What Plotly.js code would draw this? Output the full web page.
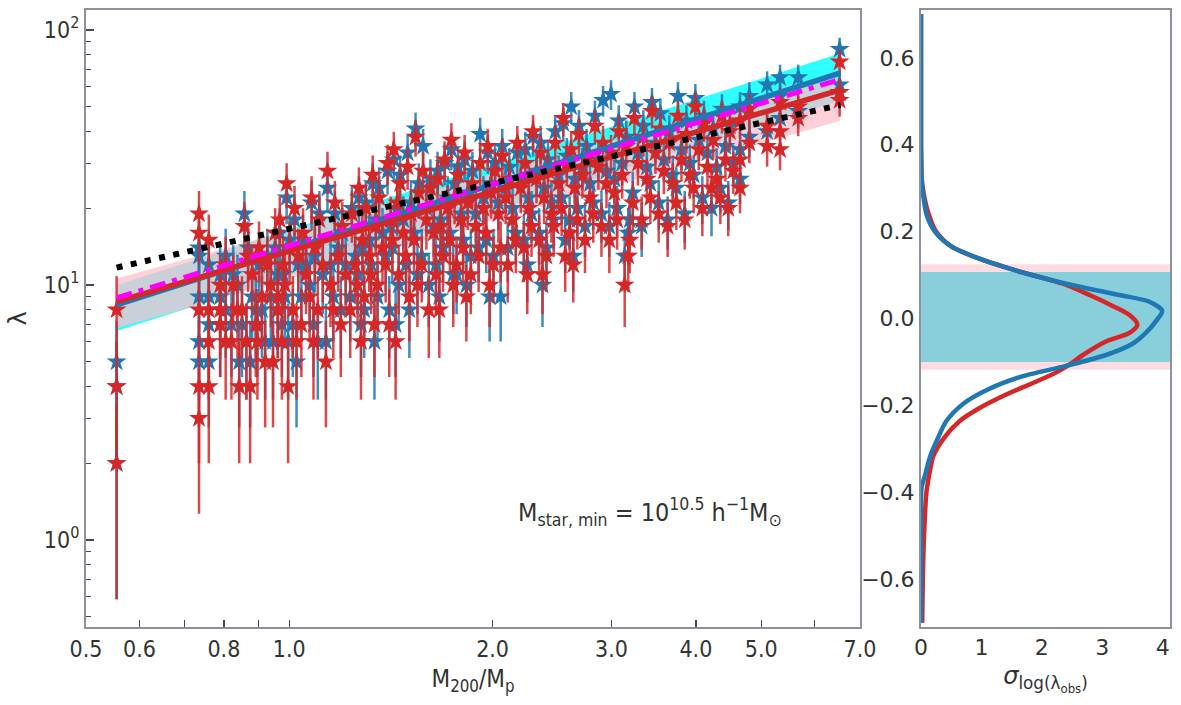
<!DOCTYPE html>
<html>
<head>
<meta charset="utf-8">
<script src="https://cdn.plot.ly/plotly-3.0.1.min.js"></script>
<style>
  html, body { margin: 0; padding: 0; background: #fff; }
  #chart { width: 1181px; height: 705px; }
</style>
</head>
<body>
<div id="chart"></div>
<script>
// cluster mass ratio M200/Mp (shared by both richness estimates)
var clusterX = [
  0.555, 0.555, 0.555,
  0.735, 0.735, 0.735, 0.735, 0.735, 0.76, 0.76, 0.76, 0.76, 0.79, 0.79, 0.79, 0.805, 0.805,
  0.826, 0.838, 0.821, 0.843, 0.858, 0.869, 0.851, 0.864, 0.881, 0.892, 0.875, 0.902, 0.911, 0.897,
  0.928, 0.939, 0.921, 0.953, 0.961, 0.946,
  0.968, 0.979, 0.962, 0.975, 0.991, 1.001, 0.985, 0.996, 1.018, 1.031, 1.012, 1.025, 1.048, 1.059, 1.042,
  1.079, 1.091, 1.072, 1.086, 1.108, 1.121, 1.102, 1.139, 1.151, 1.133, 1.168, 1.181, 1.162, 1.198, 1.212, 1.192,
  1.238, 1.252, 1.231, 1.268, 1.283, 1.262, 1.277, 1.298, 1.313, 1.291, 1.329, 1.343, 1.322, 1.337, 1.358, 1.374, 1.351,
  1.398, 1.413, 1.389, 1.406, 1.428, 1.445, 1.421, 1.437, 1.459, 1.475, 1.452, 1.497, 1.514, 1.489, 1.506,
  1.538, 1.555, 1.530, 1.548, 1.578, 1.596, 1.571, 1.618, 1.636, 1.609,
  1.658, 1.675, 1.649, 1.668, 1.698, 1.716, 1.689, 1.738, 1.757, 1.729, 1.749, 1.778, 1.797, 1.769,
  1.818, 1.838, 1.809, 1.829, 1.867, 1.889, 1.857, 1.917, 1.939, 1.907, 1.967, 1.990, 1.957, 1.980,
  2.017, 2.040, 2.006, 2.067, 2.091, 2.056, 2.117, 2.141, 2.106, 2.176, 2.202, 2.165,
  2.236, 2.262, 2.225, 2.251, 2.296, 2.323, 2.284, 2.356, 2.384, 2.344, 2.371, 2.416, 2.444, 2.403, 2.476, 2.505, 2.463,
  2.545, 2.576, 2.531, 2.562, 2.615, 2.647, 2.601, 2.633, 2.685, 2.717, 2.670, 2.755, 2.788, 2.741,
  2.835, 2.869, 2.819, 2.915, 2.949, 2.899, 2.995, 3.030, 2.978,
  3.075, 3.111, 3.058, 3.155, 3.192, 3.138, 3.176, 3.244, 3.283, 3.226, 3.344, 3.384, 3.325, 3.444, 3.485, 3.425,
  3.544, 3.586, 3.524, 3.654, 3.697, 3.633, 3.763, 3.808, 3.742, 3.873, 3.919, 3.851, 3.993, 4.040, 3.970,
  4.113, 4.161, 4.089, 4.243, 4.293, 4.219, 4.372, 4.424, 4.348, 4.492, 4.545, 4.467,
  4.65, 4.65, 4.65, 4.80, 4.80, 5.10, 5.10, 5.33, 5.33, 5.33, 5.67, 5.67, 6.53, 6.53, 6.53
];
// richness, red sample
var lambdaRed = [
  8, 4, 2,
  19, 16, 8, 4, 3, 15, 8, 6, 4, 10, 8, 7, 12, 6,
  10, 8, 6, 4, 17, 13, 8, 6, 11, 7, 4, 14, 9, 6, 12, 10, 5, 16, 8, 5,
  18, 12, 9, 6, 25, 14, 10, 4, 20, 13, 8, 6, 16, 11, 7,
  22, 14, 9, 6, 18, 12, 8, 28, 10, 5, 21, 13, 8, 17, 11, 7,
  19, 12, 8, 24, 15, 10, 6, 20, 13, 9, 27, 17, 11, 7, 22, 14, 10,
  30, 18, 12, 7, 34, 21, 15, 6, 25, 16, 11, 29, 19, 13, 9,
  38, 23, 15, 10, 28, 18, 12, 24, 16, 8,
  26, 17, 11, 8, 31, 20, 13, 37, 22, 15, 10, 27, 18, 12,
  33, 21, 14, 9, 25, 17, 11, 30, 20, 13, 35, 23, 16, 10,
  28, 19, 12, 32, 22, 14, 26, 18, 12, 36, 24, 15,
  30, 20, 14, 11, 40, 26, 17, 33, 22, 15, 11, 28, 19, 13, 36, 25, 17,
  45, 30, 20, 13, 34, 24, 16, 12, 39, 27, 18, 31, 22, 15,
  42, 29, 19, 36, 25, 17, 33, 23, 15,
  40, 27, 18, 35, 15, 10, 13, 45, 30, 21, 38, 26, 18, 48, 33, 22,
  41, 28, 19, 36, 25, 17, 46, 31, 21, 39, 27, 18, 50, 34, 24,
  43, 29, 20, 37, 26, 24, 46, 31, 22, 40, 28, 20,
  44, 31, 24, 49, 36, 42, 35, 40, 34, 52, 50, 45, 75, 57, 53
];
// richness, blue sample
var lambdaBlue = [
  5, 4, 2,
  14, 13, 9, 6, 5, 12, 9, 7, 5, 11, 9, 7, 13, 8,
  11, 10, 7, 5, 19, 14, 7, 6, 9, 8, 5, 12, 8, 7, 13, 9, 6, 14, 11, 6,
  16, 11, 8, 7, 22, 15, 9, 6, 18, 12, 7, 5, 15, 12, 9,
  21, 13, 10, 7, 19, 11, 6, 24, 12, 6, 19, 14, 9, 16, 12, 8,
  20, 13, 9, 22, 14, 11, 7, 21, 15, 8, 25, 18, 12, 6, 24, 16, 9,
  28, 17, 13, 8, 31, 20, 14, 7, 27, 18, 10, 33, 21, 12, 8,
  41, 25, 16, 11, 35, 20, 13, 26, 17, 10,
  28, 18, 12, 9, 30, 22, 14, 34, 25, 16, 11, 29, 19, 11,
  31, 23, 15, 10, 28, 19, 13, 39, 22, 14, 33, 25, 15, 9,
  30, 21, 13, 35, 24, 9, 29, 20, 14, 33, 26, 16,
  34, 22, 15, 12, 38, 28, 19, 36, 24, 16, 10, 31, 21, 14, 40, 27, 18,
  43, 32, 22, 15, 50, 26, 18, 13, 42, 29, 20, 35, 25, 17,
  46, 31, 21, 53, 28, 19, 56, 26, 17,
  44, 30, 20, 38, 18, 13, 16, 50, 33, 23, 42, 29, 17, 52, 36, 25,
  47, 31, 21, 40, 27, 18, 55, 34, 24, 44, 30, 19, 54, 37, 27,
  46, 33, 22, 41, 29, 20, 49, 35, 24, 42, 30, 21,
  50, 34, 26, 55, 38, 61, 40, 65, 45, 55, 65, 48, 84, 61, 57
];

// fitted relations (end points)
var fitX = [0.555, 6.55];
var fitBlue = [8.35, 67.8];
var fitRed = [8.6, 58.2];
var fitMagenta = [8.9, 64];
var fitBlack = [11.7, 50.8];
var cyanLow = [6.6, 53], cyanHigh = [10.0, 81];
var pinkLow = [6.76, 44], pinkHigh = [10.6, 65];

// scatter distribution (right panel)
var kdeBlueY = [0.70, 0.40, 0.34, 0.30, 0.28, 0.24, 0.20, 0.166, 0.14, 0.11, 0.08, 0.054, 0.039, 0.018, -0.002, -0.033, -0.058, -0.084, -0.109, -0.135, -0.165, -0.196, -0.236, -0.272, -0.318, -0.359, -0.389, -0.42, -0.5, -0.6, -0.70];
var kdeBlueX = [0, 0, 0.005, 0.02, 0.04, 0.09, 0.23, 0.5, 0.92, 1.58, 2.4, 3.28, 3.77, 3.99, 3.91, 3.72, 3.5, 3.06, 2.4, 1.63, 1.08, 0.70, 0.42, 0.29, 0.15, 0.07, 0.01, 0, 0, 0, 0];
var kdeRedY = [0.70, 0.40, 0.35, 0.324, 0.283, 0.243, 0.20, 0.166, 0.14, 0.11, 0.08, 0.054, 0.029, 0.008, -0.014, -0.033, -0.053, -0.084, -0.104, -0.124, -0.145, -0.175, -0.206, -0.236, -0.277, -0.318, -0.349, -0.40, -0.50, -0.60, -0.70];
var kdeRedX = [0, 0, 0.005, 0.01, 0.05, 0.12, 0.25, 0.5, 0.92, 1.58, 2.35, 2.79, 3.17, 3.45, 3.58, 3.45, 3.06, 2.68, 2.48, 2.24, 1.91, 1.41, 0.97, 0.64, 0.37, 0.20, 0.15, 0.09, 0.05, 0.03, 0.02];
var pinkBand = [-0.118, 0.125];
var cyanBand = [-0.10, 0.107];

var BLUE = '#1f77b4', RED = '#d62728';
var narrow = '"DejaVu Sans Condensed", "Liberation Sans Narrow", "DejaVu Sans", sans-serif';
var wide = '"DejaVu Sans", sans-serif';
var spine = '#8b929b';
var ink = '#333333';

function band(lo, hi, color) {
  return {
    x: [fitX[0], fitX[1], fitX[1], fitX[0]],
    y: [lo[0], lo[1], hi[1], hi[0]],
    fill: 'toself', fillcolor: color, mode: 'none',
    xaxis: 'x', yaxis: 'y', hoverinfo: 'skip'
  };
}

function stars(y, color, barColor) {
  return {
    x: clusterX, y: y, mode: 'markers', type: 'scatter',
    marker: { symbol: 'star', size: 15, color: color, line: { width: 0 } },
    error_y: { type: 'sqrt', visible: true, color: barColor, thickness: 2.5, width: 0 },
    xaxis: 'x', yaxis: 'y'
  };
}

function fit(y, color, width, dash) {
  return {
    x: fitX, y: y, mode: 'lines',
    line: { color: color, width: width, dash: dash || 'solid' },
    xaxis: 'x', yaxis: 'y'
  };
}

var traces = [
  band(cyanLow, cyanHigh, 'rgba(0,255,255,0.82)'),
  band(pinkLow, pinkHigh, 'rgba(255,192,203,0.75)'),
  stars(lambdaBlue, BLUE, 'rgba(31,119,180,0.85)'),
  stars(lambdaRed, RED, 'rgba(214,39,40,0.85)'),
  fit(fitBlue, BLUE, 5.5),
  fit(fitRed, RED, 5.5),
  fit(fitMagenta, '#ff00ff', 5, '16px,7px,5px,7px'),
  fit(fitBlack, '#000000', 6, '6px,8.5px'),
  { x: kdeRedX, y: kdeRedY, mode: 'lines', line: { color: RED, width: 4.5, shape: 'spline', smoothing: 0.8 }, xaxis: 'x2', yaxis: 'y2' },
  { x: kdeBlueX, y: kdeBlueY, mode: 'lines', line: { color: BLUE, width: 4.5, shape: 'spline', smoothing: 0.8 }, xaxis: 'x2', yaxis: 'y2' }
];

var layout = {
  width: 1181, height: 705,
  margin: { l: 0, r: 0, t: 10, b: 78 },
  paper_bgcolor: '#fff', plot_bgcolor: '#fff',
  showlegend: false,
  font: { family: narrow, color: ink, size: 20 },
  xaxis: {
    type: 'log', domain: [86 / 1181, 860 / 1181], anchor: 'y',
    range: [Math.log10(0.5), Math.log10(7)],
    tickvals: [0.5, 0.6, 0.8, 1, 2, 3, 4, 5, 7],
    ticktext: ['0.5', '0.6', '0.8', '1.0', '2.0', '3.0', '4.0', '5.0', '7.0'],
    ticks: 'inside', ticklen: 7, tickwidth: 1.3, tickcolor: '#4a4a4a',
    minor: { tickvals: [0.7, 0.9, 6], ticks: 'inside', ticklen: 7, tickwidth: 1.3, tickcolor: '#4a4a4a', showgrid: false },
    showgrid: false, zeroline: false, showline: true, mirror: true, linecolor: spine, linewidth: 2,
    tickfont: { family: narrow, size: 23, color: ink },
    title: { text: 'M<sub>200</sub>/M<sub>p</sub>', font: { family: narrow, size: 24, color: ink }, standoff: 10 }
  },
  yaxis: {
    type: 'log', domain: [0, 1], anchor: 'x',
    range: [-0.341, 2.078],
    tickvals: [1, 10, 100],
    ticktext: ['10<sup>0</sup>', '10<sup>1</sup>', '10<sup>2</sup>'],
    ticks: 'inside', ticklen: 8, tickwidth: 1.3, tickcolor: '#4a4a4a',
    minor: { tickvals: [0.5, 0.6, 0.7, 0.8, 0.9, 2, 3, 4, 5, 6, 7, 8, 9, 20, 30, 40, 50, 60, 70, 80, 90],
             ticks: 'inside', ticklen: 5, tickwidth: 1.2, tickcolor: '#4a4a4a', showgrid: false },
    showgrid: false, zeroline: false, showline: true, mirror: true, linecolor: spine, linewidth: 2,
    tickfont: { family: narrow, size: 23, color: ink },
    title: { text: 'λ', font: { family: wide, size: 24, color: ink }, standoff: 10 }
  },
  xaxis2: {
    domain: [921 / 1181, 1170 / 1181], anchor: 'y2',
    range: [0, 4.12],
    tickvals: [0, 1, 2, 3, 4],
    ticks: '', showgrid: false, zeroline: false, showline: true, mirror: true, linecolor: spine, linewidth: 2,
    tickfont: { family: wide, size: 22, color: ink },
    title: { text: '<i>σ</i><sub>log(λ<sub>obs</sub>)</sub>', font: { family: wide, size: 24, color: ink }, standoff: 8 }
  },
  yaxis2: {
    domain: [0, 1], anchor: 'x2',
    range: [-0.71, 0.71],
    tickvals: [-0.6, -0.4, -0.2, 0, 0.2, 0.4, 0.6],
    tickformat: '.1f',
    ticks: '', showgrid: false, zeroline: false, showline: true, mirror: true, linecolor: spine, linewidth: 2,
    tickfont: { family: wide, size: 22, color: ink }
  },
  shapes: [
    { type: 'rect', xref: 'x2 domain', yref: 'y2', x0: 0, x1: 1, y0: pinkBand[0], y1: pinkBand[1],
      fillcolor: '#ffdbe2', line: { width: 0 }, layer: 'below' },
    { type: 'rect', xref: 'x2 domain', yref: 'y2', x0: 0, x1: 1, y0: cyanBand[0], y1: cyanBand[1],
      fillcolor: '#89cedb', line: { width: 0 }, layer: 'below' }
  ],
  annotations: [
    { xref: 'paper', yref: 'paper', x: 650 / 1181, y: (627 - 532) / 617, showarrow: false,
      text: 'M<sub>star, min</sub> = 10<sup>10.5</sup> h<sup>−1</sup>M<sub>⊙</sub>',
      font: { family: narrow, size: 25, color: ink } }
  ]
};

Plotly.newPlot('chart', traces, layout, { staticPlot: true });
</script>
</body>
</html>
